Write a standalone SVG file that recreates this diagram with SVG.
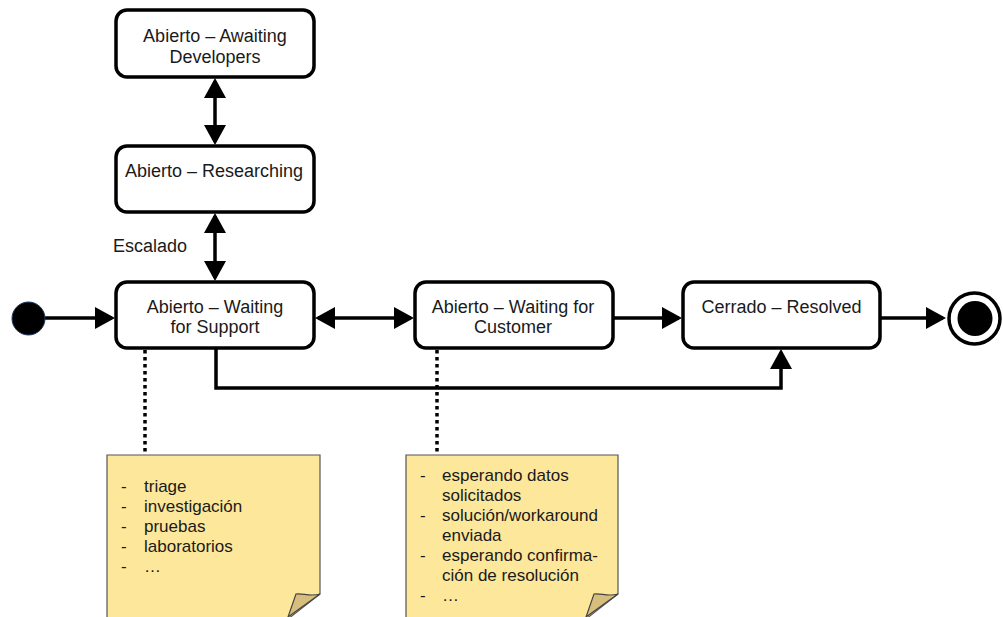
<svg xmlns="http://www.w3.org/2000/svg" width="1003" height="617" viewBox="0 0 1003 617">
<style>
.box{fill:#fff;stroke:#000;stroke-width:3.5}
.lbl{font-family:"Liberation Sans",Arial,sans-serif;font-size:18px;fill:#1a1a1a;text-anchor:middle}
.ntxt{font-family:"Liberation Sans",Arial,sans-serif;font-size:17px;fill:#1a1a1a}
.conn{fill:none;stroke:#000;stroke-width:3.5}
.dot{fill:none;stroke:#000;stroke-width:3.5;stroke-dasharray:3.5 3.5}
.note{fill:#fde79b;stroke:#555;stroke-width:1.2}
.fold{fill:#d7be7d;stroke:#444;stroke-width:1.2}
</style>
<defs>
<marker id="ah" markerUnits="userSpaceOnUse" markerWidth="22" markerHeight="22" viewBox="0 0 20 22" refX="17" refY="11" orient="auto-start-reverse">
<path d="M0,0 L20,11 L0,22 Z" fill="#000"/>
</marker>
</defs>
<rect width="1003" height="617" fill="#fff"/>
<g id="connectors">
<line class="conn" x1="215" y1="81" x2="215" y2="142" marker-start="url(#ah)" marker-end="url(#ah)"/>
<line class="conn" x1="215" y1="216" x2="215" y2="278" marker-start="url(#ah)" marker-end="url(#ah)"/>
<line class="conn" x1="44" y1="318" x2="112" y2="318" marker-end="url(#ah)"/>
<line class="conn" x1="318" y1="318" x2="411" y2="318" marker-start="url(#ah)" marker-end="url(#ah)"/>
<line class="conn" x1="614" y1="318" x2="679" y2="318" marker-end="url(#ah)"/>
<line class="conn" x1="881" y1="318" x2="943" y2="318" marker-end="url(#ah)"/>
<path class="conn" d="M216,349 V388 H781 V352" marker-end="url(#ah)"/>
<line class="dot" x1="145" y1="350" x2="145" y2="455"/>
<line class="dot" x1="437" y1="350" x2="437" y2="455"/>
</g>
<g id="start">
<circle cx="28.5" cy="318.5" r="16.5" fill="#000" stroke="#1f3c66" stroke-width="1"/>
</g>
<g id="end">
<circle cx="974.5" cy="318.5" r="25.5" fill="#fff" stroke="#000" stroke-width="3.5"/>
<circle cx="975" cy="318.5" r="17.5" fill="#000"/>
</g>
<g id="awaiting-developers">
<rect class="box" x="116" y="10" width="198" height="67" rx="11"/>
<text class="lbl" x="215" y="42">Abierto – Awaiting</text>
<text class="lbl" x="215" y="63">Developers</text>
</g>
<g id="researching">
<rect class="box" x="116" y="146" width="198" height="66" rx="11"/>
<text class="lbl" x="214" y="177">Abierto – Researching</text>
</g>
<g id="escalado">
<text class="ntxt" x="113" y="252" style="font-size:18px">Escalado</text>
</g>
<g id="waiting-support">
<rect class="box" x="116" y="282" width="198" height="66" rx="11"/>
<text class="lbl" x="215" y="313">Abierto – Waiting</text>
<text class="lbl" x="215" y="333">for Support</text>
</g>
<g id="waiting-customer">
<rect class="box" x="415" y="282" width="198" height="66" rx="11"/>
<text class="lbl" x="513" y="313">Abierto – Waiting for</text>
<text class="lbl" x="513" y="333">Customer</text>
</g>
<g id="resolved">
<rect class="box" x="683" y="282" width="197" height="66" rx="11"/>
<text class="lbl" x="781.5" y="313">Cerrado – Resolved</text>
</g>
<g id="note-support">
<path class="note" d="M107,455 H320 V594 L288,619 H107 Z"/>
<path class="fold" d="M320,594 C310,597 303,593 296,594 L288,617 Z"/>
<g class="ntxt">
<text x="121" y="492">-</text><text x="144" y="492">triage</text>
<text x="121" y="512">-</text><text x="144" y="512">investigación</text>
<text x="121" y="532">-</text><text x="144" y="532">pruebas</text>
<text x="121" y="552">-</text><text x="144" y="552">laboratorios</text>
<text x="121" y="572">-</text><text x="144" y="572">…</text>
</g>
</g>
<g id="note-customer">
<path class="note" d="M406,455 H618 V594 L586,619 H406 Z"/>
<path class="fold" d="M618,594 C608,597 601,593 594,594 L586,617 Z"/>
<g class="ntxt">
<text x="420" y="481">-</text><text x="442" y="481">esperando datos</text>
<text x="442" y="501">solicitados</text>
<text x="420" y="521">-</text><text x="442" y="521">solución/workaround</text>
<text x="442" y="541">enviada</text>
<text x="420" y="561">-</text><text x="442" y="561">esperando confirma-</text>
<text x="442" y="581">ción de resolución</text>
<text x="420" y="601">-</text><text x="442" y="601">…</text>
</g>
</g>
</svg>
